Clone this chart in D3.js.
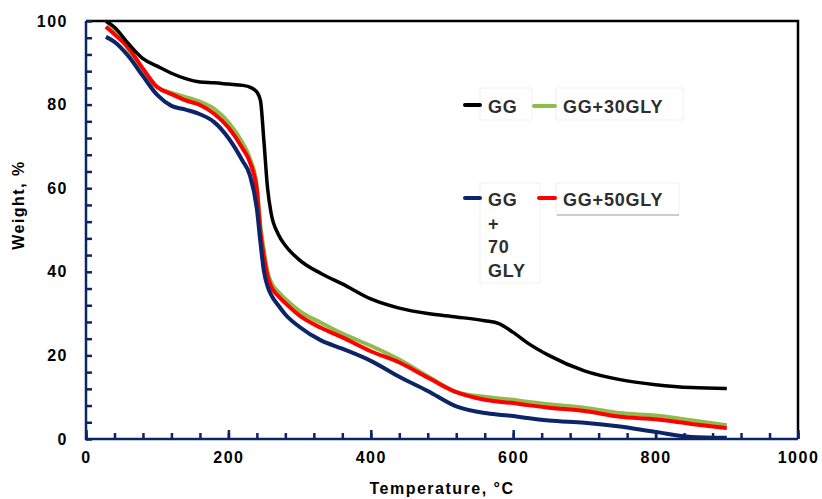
<!DOCTYPE html>
<html>
<head>
<meta charset="utf-8">
<script src="https://cdn.jsdelivr.net/npm/d3@7"></script>
<style>
    body { margin: 0; background: #fff; }
    text { font-family: 'Liberation Sans', Arial, sans-serif; }
</style>
</head>
<body>
<div id="chart"></div>
<script>
// temperatures (°C) shared by all four curves
const temps = [28, 40, 60, 80, 100, 120, 140, 160, 180, 200, 220, 230, 240, 245, 250, 255, 260, 270, 280, 300,
    330, 360, 400, 440, 480, 520, 560, 580, 600, 620, 650, 700, 750, 800, 850, 900];

// weight %
const gg = [100, 98.5, 94.5, 91, 89.2, 87.5, 86.2, 85.4, 85.2, 84.9, 84.6, 84.2, 83, 81, 71, 60, 54, 49, 46.3, 42.8,
    39.6, 37.1, 33.5, 31.3, 30, 29.2, 28.3, 27.6, 25.5, 23, 20, 16.3, 14.2, 13, 12.3, 12.1];
const gg30 = [100, 98, 93, 87.5, 84.2, 82.8, 81.8, 80.7, 79, 75.8, 70.8, 67.2, 60.5, 51, 45, 40, 37.5, 35.2, 33.5, 30.6,
    27.8, 25.2, 22.3, 19, 15, 11.3, 10.1, 9.7, 9.4, 8.9, 8.3, 7.5, 6.2, 5.6, 4.5, 3.3];
const gg50 = [98.6, 96.8, 93.5, 88.6, 84.2, 82.5, 81, 79.9, 77.8, 74.5, 69.5, 66.3, 59.5, 49.5, 43.5, 39, 36.5, 34.2, 32.5, 29.5,
    26.6, 24.3, 21, 18.3, 14.7, 11.2, 9.4, 8.9, 8.6, 8.1, 7.5, 6.7, 5.3, 4.7, 3.6, 2.6];
const gg70 = [96.2, 95, 91.5, 86.8, 82.3, 79.7, 78.8, 77.7, 75.8, 72, 66.5, 63.2, 55, 47, 40, 36.5, 34.5, 32, 29.8, 26.8,
    23.6, 21.6, 18.7, 14.9, 11.5, 7.8, 6.2, 5.8, 5.5, 5, 4.4, 3.9, 3, 1.7, 0.5, 0.3];

const seriesNames = ['GG', 'GG+30GLY', 'GG+50GLY', 'GG+70GLY'];
const seriesValues = [gg, gg30, gg50, gg70];
const seriesColors = ['#000000', '#8fba4c', '#ff0000', '#0c2468'];

const xTicks = [0, 200, 400, 600, 800, 1000];
const yTicks = [0, 20, 40, 60, 80, 100];

const width = 822;
const height = 499;
const margin = {top: 21, right: 24, bottom: 60, left: 86};

const svg = d3.select('#chart')
    .append('svg')
        .attr('viewBox', [0, 0, width, height])
        .attr('width', width)
        .attr('height', height);

const x = d3.scaleLinear().domain([0, 1000]).range([margin.left, width - margin.right]);
const y = d3.scaleLinear().domain([0, 100]).range([height - margin.bottom, margin.top]);

const navy = '#0c2468';

// frame: black top and right edges
svg.append('path')
    .attr('d', `M${x(0)},${y(100)}H${x(1000)}V${y(0)}`)
    .attr('fill', 'none')
    .attr('stroke', '#000')
    .attr('stroke-width', 2.5);

// minor + major ticks, pointing inward
const xMinor = svg.append('g')
    .attr('transform', `translate(0, ${y(0)})`)
    .call(d3.axisBottom(x).tickValues(d3.range(0, 1001, 40)).tickSize(-6).tickFormat(''));
const xMajor = svg.append('g')
    .attr('transform', `translate(0, ${y(0)})`)
    .call(d3.axisBottom(x).tickValues(xTicks).tickSize(-9).tickPadding(13).tickFormat(d3.format('d')));
const yMinor = svg.append('g')
    .attr('transform', `translate(${x(0)}, 0)`)
    .call(d3.axisLeft(y).tickValues(d3.range(0, 101, 4)).tickSize(-6).tickFormat(''));
const yMajor = svg.append('g')
    .attr('transform', `translate(${x(0)}, 0)`)
    .call(d3.axisLeft(y).tickValues(yTicks).tickSize(0).tickPadding(18).tickFormat(d3.format('d')));

[xMinor, xMajor, yMinor, yMajor].forEach(g => {
    g.select('.domain').remove();
    g.selectAll('line').attr('stroke', navy).attr('stroke-width', 2.5);
    g.selectAll('text')
        .attr('fill', '#000')
        .style('font-size', '16px')
        .style('font-weight', 900)
        .style('letter-spacing', '1.5px');
});

// navy axis lines
svg.append('path')
    .attr('d', `M${x(0)},${y(100)}V${y(0)}H${x(1000)}`)
    .attr('fill', 'none')
    .attr('stroke', navy)
    .attr('stroke-width', 2.5);

// axis titles
svg.append('text')
    .attr('x', (x(0) + x(1000)) / 2)
    .attr('y', 494)
    .attr('text-anchor', 'middle')
    .style('font-size', '16px')
    .style('font-weight', 900)
    .style('letter-spacing', '1.5px')
    .text('Temperature, °C');
svg.append('text')
    .attr('transform', 'translate(24, 205) rotate(-90)')
    .attr('text-anchor', 'middle')
    .style('font-size', '16px')
    .style('font-weight', 900)
    .style('letter-spacing', '1.5px')
    .text('Weight, %');

// curves
const line = d3.line()
    .x((d, i) => x(temps[i]))
    .y(d => y(d))
    .curve(d3.curveMonotoneX);

const drawOrder = [1, 2, 3, 0];
svg.append('g')
    .attr('class', 'curves')
    .selectAll('path')
    .data(drawOrder)
    .join('path')
        .attr('d', i => line(seriesValues[i]))
        .attr('fill', 'none')
        .attr('stroke', i => seriesColors[i])
        .attr('stroke-width', i => i === 0 ? 3.5 : 4)
        .attr('stroke-linejoin', 'round');

// legend
const legend = svg.append('g')
    .attr('class', 'legend')
    .style('font-size', '18px')
    .style('font-weight', 700)
    .style('letter-spacing', '0.8px')
    .attr('fill', '#2e2e2e');

const legendItems = [
    {i: 0, lx: 465, ly: 105, tx: 488, ty: 113, box: [480, 88, 52, 32], lines: ['GG']},
    {i: 1, lx: 534, ly: 106, tx: 563, ty: 113, box: [556, 88, 127, 32], lines: ['GG+30GLY']},
    {i: 3, lx: 465, ly: 198, tx: 488, ty: 206, box: [480, 183, 60, 100], lines: ['GG', '+', '70', 'GLY']},
    {i: 2, lx: 539, ly: 198, tx: 563, ty: 206, box: [556, 183, 123, 32], lines: ['GG+50GLY']}
];

legendItems.forEach(item => {
    legend.append('rect')
        .attr('x', item.box[0])
        .attr('y', item.box[1])
        .attr('width', item.box[2])
        .attr('height', item.box[3])
        .attr('fill', 'none')
        .attr('stroke', '#f0f0f0');
    legend.append('line')
        .attr('x1', item.lx)
        .attr('x2', item.tx - 8)
        .attr('y1', item.ly)
        .attr('y2', item.ly)
        .attr('stroke', seriesColors[item.i])
        .attr('stroke-width', 4)
        .attr('stroke-linecap', 'round');
    item.lines.forEach((t, k) => {
        legend.append('text')
            .attr('x', item.tx)
            .attr('y', item.ty + k * 23.5)
            .text(t);
    });
});

// shadow edge under the GG+50GLY box
legend.append('line')
    .attr('x1', 557).attr('x2', 679)
    .attr('y1', 215).attr('y2', 215)
    .attr('stroke', '#a0a0a0')
    .attr('stroke-width', 1);
</script>
</body>
</html>
